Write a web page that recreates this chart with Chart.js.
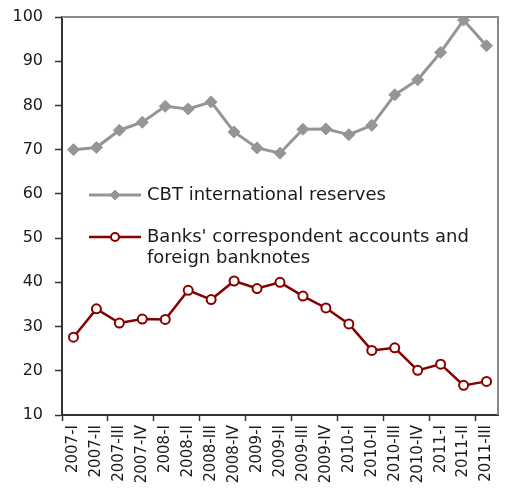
<!DOCTYPE html>
<html>
<head>
<meta charset="utf-8">
<script src="https://cdn.jsdelivr.net/npm/chart.js@4.4.1/dist/chart.umd.min.js"></script>
<style>
html,body{margin:0;padding:0;background:#fff;}
#wrap{width:505px;height:493px;}
</style>
</head>
<body>
<div id="wrap"><canvas id="c" width="505" height="493"></canvas></div>
<script>
const categories = ["2007-I","2007-II","2007-III","2007-IV","2008-I","2008-II","2008-III","2008-IV","2009-I","2009-II","2009-III","2009-IV","2010-I","2010-II","2010-III","2010-IV","2011-I","2011-II","2011-III"];
const reservesLabel = "CBT international reserves";
const reserves = [70.0,70.5,74.4,76.2,79.8,79.2,80.8,74.0,70.4,69.2,74.6,74.7,73.4,75.5,82.4,85.8,92.0,99.3,93.5];
const banksLabel = "Banks' correspondent accounts and foreign banknotes";
const banksLegendLines = ["Banks' correspondent accounts and", "foreign banknotes"];
const banks = [27.6,34.0,30.8,31.7,31.6,38.2,36.1,40.3,38.6,40.0,36.9,34.2,30.6,24.6,25.2,20.1,21.5,16.7,17.6];
const yTicks = [10,20,30,40,50,60,70,80,90,100];

const FONT = "'DejaVu Sans', sans-serif";
const GRAY = '#959595';
const RED = '#870000';

const framePlugin = {
  id: 'frame',
  beforeDatasetsDraw(chart) {
    const {ctx, chartArea: a} = chart;
    ctx.save();
    ctx.strokeStyle = '#8a8a8a';
    ctx.lineWidth = 2;
    ctx.beginPath();
    ctx.moveTo(a.left, a.top);
    ctx.lineTo(a.right, a.top);
    ctx.lineTo(a.right, a.bottom);
    ctx.stroke();
    ctx.restore();
  }
};

const legendPlugin = {
  id: 'insideLegend',
  afterDatasetsDraw(chart) {
    const {ctx} = chart;
    const items = [
      {ds: chart.data.datasets[0], lines: [reservesLabel], y: 195},
      {ds: chart.data.datasets[1], lines: banksLegendLines, y: 237}
    ];
    ctx.save();
    items.forEach(it => {
      const ds = it.ds;
      ctx.strokeStyle = ds.borderColor;
      ctx.lineWidth = ds.borderWidth;
      ctx.beginPath();
      ctx.moveTo(89, it.y);
      ctx.lineTo(141, it.y);
      ctx.stroke();
      ctx.fillStyle = ds.pointBackgroundColor;
      ctx.strokeStyle = ds.pointBorderColor;
      ctx.lineWidth = ds.pointBorderWidth;
      ctx.beginPath();
      const r = ds.legendRadius;
      if (ds.pointStyle === 'circle') {
        ctx.arc(115, it.y, r, 0, Math.PI * 2);
      } else {
        ctx.moveTo(115, it.y - r); ctx.lineTo(115 + r, it.y);
        ctx.lineTo(115, it.y + r); ctx.lineTo(115 - r, it.y); ctx.closePath();
      }
      ctx.fill(); ctx.stroke();
      ctx.fillStyle = '#1a1a1a';
      ctx.font = "18px " + FONT;
      ctx.textBaseline = 'middle';
      ctx.textAlign = 'left';
      it.lines.forEach((t, i) => ctx.fillText(t, 147, it.y + i * 21));
    });
    ctx.restore();
  }
};

new Chart(document.getElementById('c'), {
  type: 'line',
  data: {
    labels: categories,
    datasets: [
      {
        label: reservesLabel,
        data: reserves,
        borderColor: GRAY,
        borderWidth: 3,
        pointStyle: 'rectRot',
        pointRadius: 6,
        legendRadius: 5,
        pointBackgroundColor: GRAY,
        pointBorderColor: GRAY,
        pointBorderWidth: 1,
        tension: 0
      },
      {
        label: banksLabel,
        data: banks,
        borderColor: RED,
        borderWidth: 2.5,
        pointStyle: 'circle',
        pointRadius: 4.5,
        legendRadius: 4,
        pointBackgroundColor: '#ffffff',
        pointBorderColor: RED,
        pointBorderWidth: 2,
        tension: 0
      }
    ]
  },
  options: {
    responsive: false,
    animation: false,
    devicePixelRatio: 1,
    layout: {padding: {left: 0, top: 17, right: 6, bottom: 0}},
    plugins: {legend: {display: false}, tooltip: {enabled: false}},
    scales: {
      x: {
        type: 'category',
        offset: true,
        afterFit(s) { s.height = 78; s.paddingLeft = 0; s.paddingRight = 0; },
        border: {display: true, color: '#333333', width: 2},
        grid: {
          display: true,
          offset: true,
          drawOnChartArea: false,
          drawTicks: true,
          tickLength: 6,
          tickWidth: 1.5,
          color: '#333333',
          tickColor: (ctx) => (ctx.index % 2 === 0 ? '#333333' : 'rgba(0,0,0,0)')
        },
        ticks: {
          autoSkip: false,
          maxRotation: 90,
          minRotation: 90,
          padding: 4,
          color: '#1a1a1a',
          font: {family: FONT, size: 15}
        }
      },
      y: {
        min: 10,
        max: 100,
        afterFit(s) { s.width = 62; s.paddingTop = 0; s.paddingBottom = 0; },
        afterBuildTicks(s) { s.ticks = yTicks.map(v => ({value: v})); },
        border: {display: true, color: '#333333', width: 2},
        grid: {
          display: true,
          drawOnChartArea: false,
          drawTicks: true,
          tickLength: 7,
          tickWidth: 1.5,
          color: '#333333'
        },
        ticks: {
          padding: 12,
          color: '#1a1a1a',
          font: {family: FONT, size: 16}
        }
      }
    }
  },
  plugins: [framePlugin, legendPlugin]
});
</script>
</body>
</html>
